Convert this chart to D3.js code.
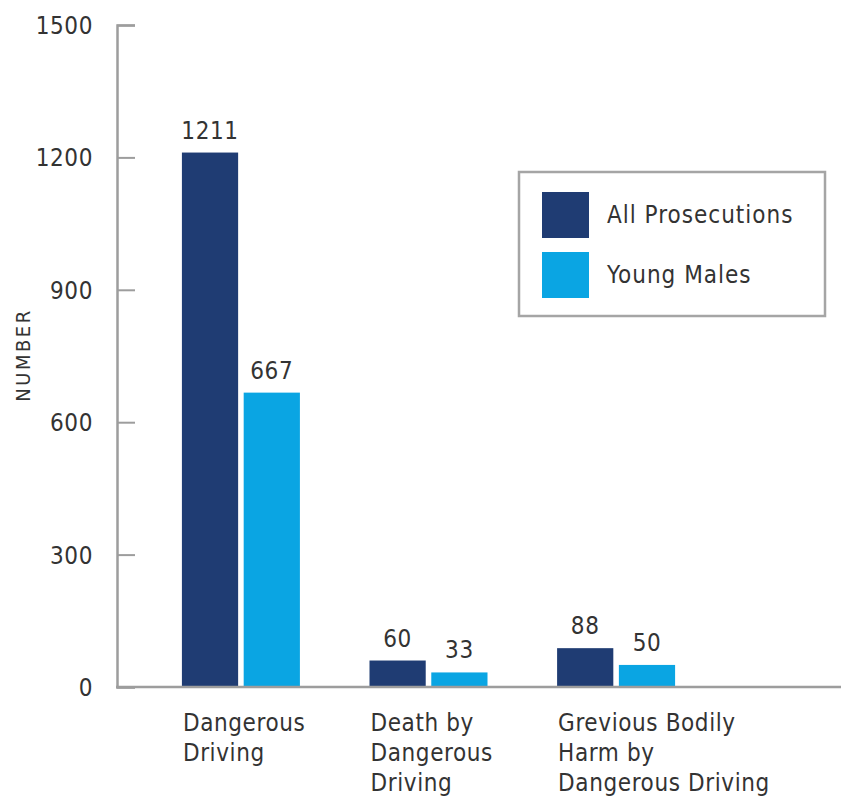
<!DOCTYPE html>
<html>
<head>
<meta charset="utf-8">
<script src="https://cdn.jsdelivr.net/npm/d3@7/dist/d3.min.js"></script>
<style>
  html, body { margin: 0; padding: 0; background: #fff; }
  svg { display: block; }
  text { font-family: "DejaVu Sans Condensed", "DejaVu Sans", sans-serif; fill: #333; }
</style>
</head>
<body>
<script>
// Prosecutions for dangerous-driving offences
const categories = [
  ["Dangerous", "Driving"],
  ["Death by", "Dangerous", "Driving"],
  ["Grevious Bodily", "Harm by", "Dangerous Driving"]
];
const seriesNames = ["All Prosecutions", "Young Males"];
const allProsecutions = [1211, 60, 88];
const youngMales = [667, 33, 50];
const yTicks = [0, 300, 600, 900, 1200, 1500];
const colors = ["#1f3c73", "#0aa5e3"];

const W = 841, H = 803;
const svg = d3.select("body").append("svg").attr("width", W).attr("height", H);

const x0 = 117, yBase = 687, yTop = 25;
const y = d3.scaleLinear().domain([0, 1500]).range([yBase, yTop]);

const catIdx = d3.range(categories.length);
const xBand = d3.scaleBand().domain(catIdx).range([120, 737])
  .paddingInner(0.371).paddingOuter(0.33);
const xSeries = d3.scaleBand().domain(d3.range(seriesNames.length))
  .range([0, xBand.bandwidth()]).paddingInner(0.09);

const series = [allProsecutions, youngMales];
const fs = "24px", ls = "0.6px";

// Y axis: ticks point into the plot
const yAxis = d3.axisRight(y).tickValues(yTicks).tickSize(18).tickFormat(d3.format("d"));
const ag = svg.append("g").attr("transform", `translate(${x0},0)`).call(yAxis);
ag.select(".domain").attr("stroke", "#9d9d9d").attr("stroke-width", 2.5);
ag.selectAll(".tick line").attr("stroke", "#9d9d9d").attr("stroke-width", 2);
ag.selectAll(".tick text")
  .attr("x", -24).attr("dy", "0.35em")
  .attr("text-anchor", "end")
  .style("font-size", fs).style("letter-spacing", ls).style("fill", "#333");

// Bars
const groups = svg.append("g").selectAll("g").data(catIdx).join("g")
  .attr("transform", i => `translate(${xBand(i)},0)`);

groups.selectAll("rect")
  .data(i => series.map((s, k) => ({ k, v: s[i] })))
  .join("rect")
  .attr("x", d => xSeries(d.k))
  .attr("width", xSeries.bandwidth())
  .attr("y", d => y(d.v))
  .attr("height", d => yBase - y(d.v))
  .attr("fill", d => colors[d.k]);

groups.selectAll("text.val")
  .data(i => series.map((s, k) => ({ k, v: s[i] })))
  .join("text")
  .attr("class", "val")
  .attr("x", d => xSeries(d.k) + xSeries.bandwidth() / 2)
  .attr("y", d => y(d.v) - 14)
  .attr("text-anchor", "middle")
  .style("font-size", fs).style("letter-spacing", ls)
  .text(d => d.v);

// Baseline
svg.append("line")
  .attr("x1", x0 - 1).attr("x2", W)
  .attr("y1", yBase).attr("y2", yBase)
  .attr("stroke", "#9d9d9d").attr("stroke-width", 2.5);

// Category labels
groups.append("text")
  .attr("x", 1)
  .attr("y", 731)
  .style("font-size", fs).style("letter-spacing", ls)
  .selectAll("tspan")
  .data(i => categories[i])
  .join("tspan")
  .attr("x", 1)
  .attr("dy", (d, j) => j === 0 ? 0 : 30)
  .text(d => d);

// Y axis title
svg.append("text")
  .attr("transform", `translate(30,355) rotate(-90)`)
  .attr("text-anchor", "middle")
  .style("font-size", "20px").style("letter-spacing", "2.5px")
  .text("NUMBER");

// Legend
const lg = svg.append("g");
lg.append("rect")
  .attr("x", 519).attr("y", 172).attr("width", 306).attr("height", 144)
  .attr("fill", "#fff").attr("stroke", "#a5a5a5").attr("stroke-width", 2.5);
const items = lg.selectAll("g.item").data(seriesNames).join("g")
  .attr("class", "item")
  .attr("transform", (d, i) => `translate(542,${192 + i * 60})`);
items.append("rect").attr("width", 47).attr("height", 46)
  .attr("fill", (d, i) => colors[i]);
items.append("text").attr("x", 65).attr("y", 31)
  .style("font-size", fs).style("letter-spacing", "1px").text(d => d);
</script>
</body>
</html>
